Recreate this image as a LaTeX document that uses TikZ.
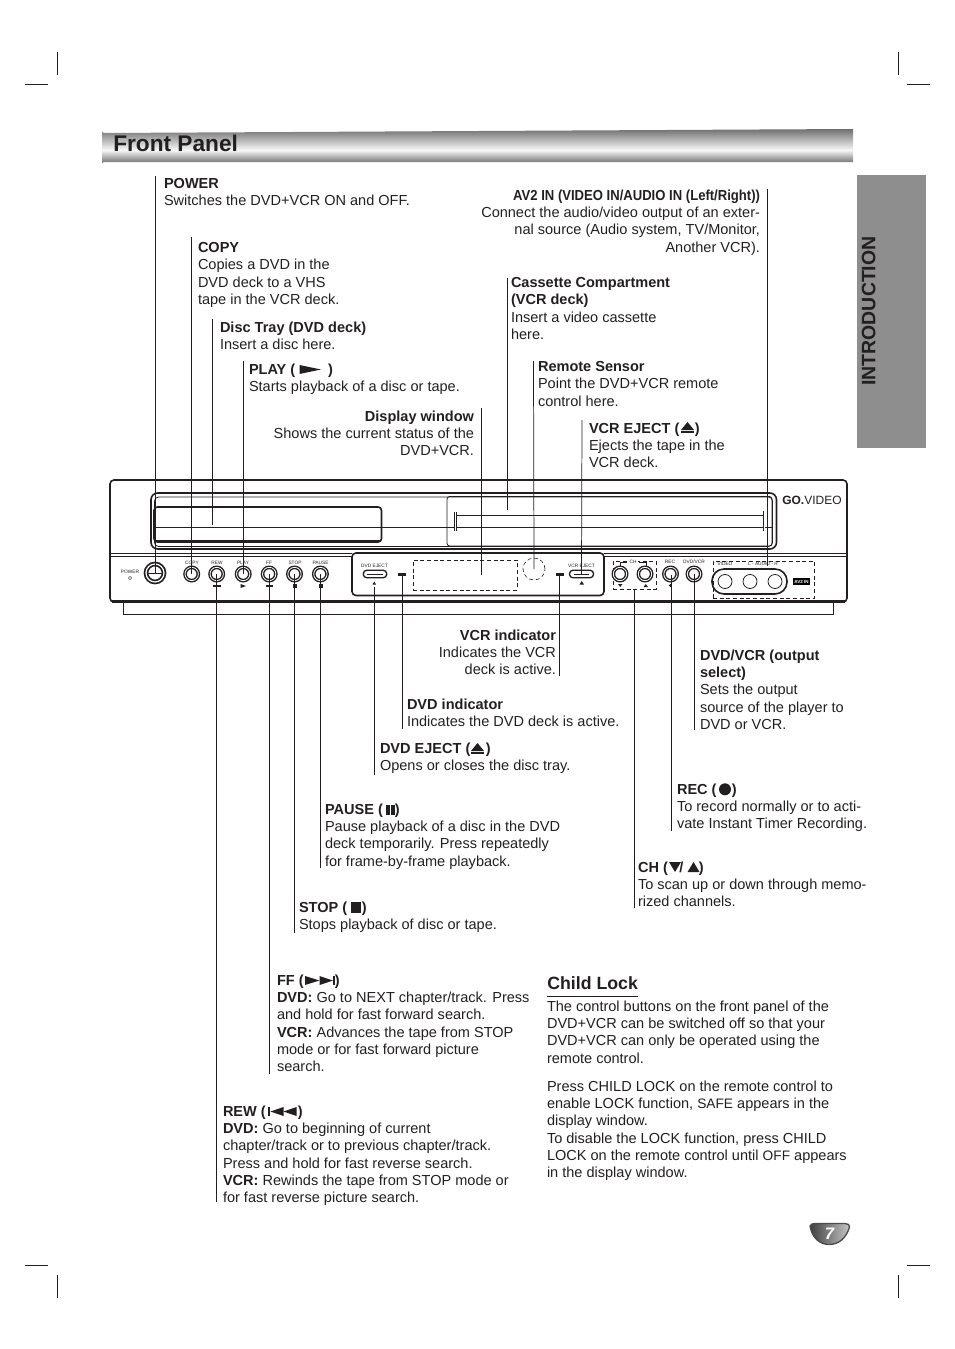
\documentclass[tikz,border=0pt]{standalone}
\usepackage{fontspec}
\setmainfont{Liberation Sans}
\newfontfamily\narrowbf[FakeStretch=0.9]{Liberation Sans Bold}
\usetikzlibrary{calc}
\definecolor{ink}{HTML}{231F20}
\definecolor{tabgray}{HTML}{8F8E8E}
\newcommand{\bodyfont}{\fontsize{10.9}{13}\selectfont}
\tikzset{
  txt/.style={anchor=north west,inner sep=0pt,outer sep=0pt,align=left,text=ink,font=\bodyfont,execute at begin node={\rule{0pt}{8.7pt}}},
  rtxt/.style={txt,anchor=north east,align=right},
  lead/.style={draw=ink,line width=0.55pt},
  crop/.style={draw=ink,line width=0.5pt},
  dev/.style={draw=ink,line width=0.6pt},
  devthick/.style={draw=ink,line width=1.2pt},
  btn/.style={circle,draw=ink,line width=1.05pt,double=white,double distance=0.6pt,minimum size=10pt,inner sep=0pt,fill=white},
  tinylab/.style={inner sep=0pt,text=ink,font=\fontsize{3.6}{4}\selectfont},
  dashbox/.style={draw=ink,line width=0.45pt,densely dashed},
}
\begin{document}
\begin{tikzpicture}[x=0.75pt,y=-0.75pt]
\useasboundingbox (0,0) rectangle (954,1349);
% crop marks
\draw[crop] (25,84) -- (48,84); \draw[crop] (57,52) -- (57,75);
\draw[crop] (907,84) -- (930,84); \draw[crop] (898,52) -- (898,75);
\draw[crop] (25,1265) -- (48,1265); \draw[crop] (57,1275) -- (57,1298);
\draw[crop] (907,1265) -- (930,1265); \draw[crop] (898,1275) -- (898,1298);
% header
\begin{scope}
\clip (102,131) arc[start angle=180,end angle=90,radius=2] -- (853,129) -- (853,162) -- (104,162) arc[start angle=270,end angle=180,radius=2] -- cycle;
\shade[top color=black!56,bottom color=black!3] (102,129) rectangle (853,150);
\shade[top color=black!3,bottom color=black!52] (102,150) rectangle (853,162);
\end{scope}
\node[anchor=west,inner sep=0pt,text=ink,font=\fontsize{17}{20}\selectfont\bfseries] (title) at (113,143.5) {Front Panel};
% side tab
\fill[tabgray] (857,175) rectangle (926,448);
\node[rotate=90,inner sep=0pt,text=ink,font=\fontsize{14.6}{16}\selectfont\bfseries] (intro) at (868.7,311) {INTRODUCTION};
% device body
\draw[devthick,rounded corners=3pt] (110,602) -- (110,480) -- (847,480) -- (847,602) -- cycle;
\draw[dev,line width=1.6pt] (112,601.5) -- (845,601.5);
\draw[dev] (123,602) -- (123,614) -- (833,614) -- (833,602);
\draw[dev] (111,553) -- (352,553); \draw[dev] (604,553) -- (846,553);
\draw[dev] (111,556) -- (352,556); \draw[dev] (604,556) -- (846,556);
% doors
\draw[devthick,rounded corners=5pt] (151,493) rectangle (776.5,549);
\draw[dev,rounded corners=3pt] (154.5,497) rectangle (772.5,546.5);
\draw[devthick,rounded corners=2.5pt] (154,507) rectangle (381.5,542);
\draw[dev] (155,540) -- (381,540);
\draw[dev] (154,527) -- (772,527);
\draw[dev,rounded corners=2pt] (447,496.5) rectangle (772,546);
\draw[dev] (456,515) -- (764,515);
\draw[dev,double=white,double distance=0.5pt] (455.6,512) -- (455.6,531);
\draw[dev,double=white,double distance=0.5pt] (764,511) -- (764,531);
\node[anchor=west,inner sep=0pt,text=ink,font=\fontsize{9}{10}\selectfont] (logo) at (782,500) {\textbf{GO.}VIDEO};
% control panel
\draw[devthick,rounded corners=3pt] (352,553) rectangle (604,595.5);
\node[rounded corners=2.5pt,draw=ink,line width=1pt,fill=white,minimum width=17.5pt,minimum height=5.6pt,inner sep=0pt] (dvdej) at (375,574) {};
\node[rounded corners=2.5pt,draw=ink,line width=1pt,fill=white,minimum width=18pt,minimum height=5.6pt,inner sep=0pt] (vcrej) at (581.5,574) {};
\draw[ink,line width=0.4pt] (367,574) -- (383,574); \draw[ink,line width=0.4pt] (574,574) -- (589,574);
\fill[ink] (398,573) rectangle (406,575.6); \coordinate (dvdind) at (402,574.5);
\fill[ink] (556,573) rectangle (564,575.6); \coordinate (vcrind) at (559.6,574.5);
\node[dashbox,minimum width=78pt,minimum height=22.5pt,inner sep=0pt] (display) at (465,575) {};
\node[dashbox,circle,minimum size=16.5pt,inner sep=0pt] (sensor) at (534,569) {};
\node[dashbox,minimum width=32pt,minimum height=21pt,inner sep=0pt] (chbox) at (634.5,575) {};
\node[dashbox,minimum width=76pt,minimum height=28pt,inner sep=0pt] (avbox) at (763.5,579.5) {};
\draw[draw=ink,line width=1.2pt,rounded corners=9pt] (712,569) rectangle (787,594);
\foreach \n/\x in {vid/725,audl/750,audr/775}{\node[circle,draw=ink,line width=0.6pt,minimum size=10.5pt,inner sep=0pt] (\n) at (\x,581.5) {};}
\node[fill=black,text=white,inner sep=0pt,minimum width=12.6pt,minimum height=5.2pt,font=\fontsize{3.4}{4}\selectfont\bfseries] (avin) at (801.5,581.5) {AV2 IN};
% buttons
\node[btn,line width=1.3pt,double distance=0.9pt,minimum size=13.5pt] (bpower) at (155,573) {};
\draw[ink,line width=0.7pt] (148,573) -- (162,573);
\node[btn] (bcopy) at (191.7,574) {};
\node[btn] (brew) at (216.7,574) {};
\node[btn] (bplay) at (243.2,574) {};
\node[btn] (bff) at (269.2,574) {};
\node[btn] (bstop) at (294.5,574) {};
\node[btn] (bpause) at (320.4,574) {};
\node[btn] (bch1) at (620,574) {};
\node[btn] (bch2) at (645,574) {};
\node[btn] (brec) at (670.5,574) {};
\node[btn] (bdvcr) at (694,574) {};
% device labels
\node[tinylab] (lpower) at (130,571.5) {POWER};
\draw[ink,line width=0.35pt] (130,578) circle[radius=1.6];
\node[tinylab] (lcopy) at (192,562.5) {COPY};
\node[tinylab] (lrew) at (217,562.5) {REW};
\node[tinylab] (lplay) at (243,562.5) {PLAY};
\node[tinylab] (lff) at (269,562.5) {FF};
\node[tinylab] (lstop) at (295,562.5) {STOP};
\node[tinylab] (lpause) at (320.5,562.5) {PAUSE};
\node[tinylab] (ldvdej) at (374.5,566) {DVD EJECT};
\node[tinylab] (lvcrej) at (581.5,566) {VCR EJECT};
\node[tinylab,fill=white,inner xsep=1pt] (lch) at (633,562) {CH};
\node[tinylab] (lrec) at (670,562) {REC};
\node[tinylab] (ldvcr) at (694,562) {DVD/VCR};
\node[tinylab] (lvideo) at (725,564) {VIDEO};
\node[tinylab] (laudio) at (763,564) {L - AUDIO - R};
\draw[ink,line width=0.45pt] (620,566) -- (620,562) -- (627,562) (639,562) -- (646,562) -- (646,566);
% small symbols under the buttons
\fill[ink] (213,585) rectangle (221,587.4);
\fill[ink] (240.5,584) -- (240.5,588) -- (246,586) -- cycle;
\fill[ink] (265.5,585) rectangle (273,587.4);
\fill[ink] (293,584) rectangle (296.5,588);
\fill[ink] (319,584) rectangle (322.5,588);
\fill[ink] (372.5,584.5) -- (376,584.5) -- (374.2,581.5) -- cycle;
\fill[ink] (579.5,584.5) -- (584,584.5) -- (581.7,581) -- cycle;
\fill[ink] (618,584) -- (622.5,584) -- (620.2,587) -- cycle;
\fill[ink] (643.5,587) -- (648,587) -- (645.7,584) -- cycle;
\fill[ink] (670.5,585.5) circle[radius=1.7];
% leader lines
\coordinate (tpower) at (155,176); \draw[lead] (tpower) -- (bpower.center);
\coordinate (tcopy) at (191.7,237); \draw[lead] (tcopy) -- (bcopy.center);
\coordinate (tdisc) at (212.5,319); \coordinate (edisc) at (212.5,525); \draw[lead] (tdisc) -- (edisc);
\coordinate (tplay) at (243.2,361); \draw[lead] (tplay) -- (bplay.center);
\coordinate (tdisp) at (481,408); \draw[lead] (tdisp) -- (481,575);
\coordinate (tcass) at (507,278); \coordinate (ecass) at (507,510); \draw[lead] (tcass) -- (ecass);
\coordinate (tsens) at (533.5,361); \draw[lead] (tsens) -- (sensor.center);
\coordinate (tvcrej) at (582,420); \draw[lead] (tvcrej) -- (vcrej.center);
\coordinate (tav) at (767.5,189); \coordinate (eav) at (767.5,566); \draw[lead] (tav) -- (eav);
\coordinate (bvcrind) at (559.6,676); \draw[lead] (vcrind) -- (bvcrind);
\coordinate (bdvdind) at (402,729); \draw[lead] (dvdind) -- (bdvdind);
\coordinate (bdvdej) at (374.5,775); \coordinate (sdvdej) at (374.5,587); \draw[lead] (sdvdej) -- (bdvdej);
\coordinate (epause) at (320.4,868); \draw[lead] (bpause.center) -- (epause);
\coordinate (estop) at (294.5,933); \draw[lead] (bstop.center) -- (estop);
\coordinate (eff) at (269.2,1074); \draw[lead] (bff.center) -- (eff);
\coordinate (erew) at (216.7,1202); \draw[lead] (brew.center) -- (erew);
\coordinate (ech) at (634.5,908); \draw[lead] (chbox.south -| ech) -- (ech);
\coordinate (erec) at (671,831); \draw[lead] (671,575) -- (erec);
\coordinate (edvcr) at (694,730); \draw[lead] (bdvcr.center) -- (edvcr);
% upper texts
\node[txt] (power) at (164,178.5) {\textbf{POWER}\\Switches the DVD+VCR ON and OFF.};
\node[txt] (copy) at (198,242.5) {\textbf{COPY}\\Copies a DVD in the\\DVD deck to a VHS\\tape in the VCR deck.};
\node[txt] (disc) at (220,321.5) {\textbf{Disc Tray (DVD deck)}\\Insert a disc here.};
\node[txt] (play) at (249,363.5) {\textbf{PLAY (\hspace{21.5pt} )}\\Starts playback of a disc or tape.};
\fill[ink] (299.5,365) -- (299.5,374) -- (321,369.5) -- cycle;
\node[rtxt] (disp) at (474,410.5) {\textbf{Display window}\\Shows the current status of the\\DVD+VCR.};
\node[rtxt] (av) at (760,189.5) {{\narrowbf AV2 IN (VIDEO IN/AUDIO IN (Left/Right))}\\Connect the audio/video output of an exter-\\nal source (Audio system, TV/Monitor,\\Another VCR).};
\node[txt] (cass) at (511,277.5) {\textbf{Cassette Compartment}\\\textbf{(VCR deck)}\\Insert a video cassette\\here.};
\node[txt] (sens) at (538,361.5) {\textbf{Remote Sensor}\\Point the DVD+VCR remote\\control here.};
\node[txt] (vej) at (589,422.5) {\textbf{VCR EJECT (\hspace{11.5pt})}\\Ejects the tape in the\\VCR deck.};
\fill[ink] (681,430) -- (694,430) -- (687.5,422) -- cycle; \fill[ink] (681,431.2) rectangle (694,433.2);
% lower texts
\node[rtxt] (vind) at (556,629.5) {\textbf{VCR indicator}\\Indicates the VCR\\deck is active.};
\node[txt] (dind) at (407,698.5) {\textbf{DVD indicator}\\Indicates the DVD deck is active.};
\node[txt] (dej) at (380,742.5) {\textbf{DVD EJECT (\hspace{11.5pt})}\\Opens or closes the disc tray.};
\fill[ink] (471,751) -- (484,751) -- (477.5,743) -- cycle; \fill[ink] (471,752.2) rectangle (484,754.2);
\node[txt] (pause) at (325,803.5) {\textbf{PAUSE (\hspace{9pt})}\\Pause playback of a disc in the DVD\\deck temporarily. Press repeatedly\\for frame-by-frame playback.};
\fill[ink] (385.5,805) rectangle (389.7,814.5); \fill[ink] (391.1,805) rectangle (395.3,814.5);
\node[txt] (stop) at (299,901.5) {\textbf{STOP (\hspace{11pt})}\\Stops playback of disc or tape.};
\fill[ink] (350.5,902) rectangle (361,912.5);
\node[txt] (ff) at (277,974.5) {\textbf{FF (\hspace{23.5pt})}\\\textbf{DVD:} Go to NEXT chapter/track. Press\\and hold for fast forward search.\\\textbf{VCR:} Advances the tape from STOP\\mode or for fast forward picture\\search.};
\fill[ink] (305,976) -- (305,985) -- (319.5,980.5) -- cycle; \fill[ink] (319.5,976) -- (319.5,985) -- (333,980.5) -- cycle; \fill[ink] (333,976) rectangle (335.2,985);
\node[txt] (rew) at (223,1105.5) {\textbf{REW (\hspace{24pt})}\\\textbf{DVD:} Go to beginning of current\\chapter/track or to previous chapter/track.\\Press and hold for fast reverse search.\\\textbf{VCR:} Rewinds the tape from STOP mode or\\for fast reverse picture search.};
\fill[ink] (268.2,1107) rectangle (270.4,1116); \fill[ink] (283.5,1107) -- (283.5,1116) -- (270.4,1111.5) -- cycle; \fill[ink] (296.5,1107) -- (296.5,1116) -- (283.5,1111.5) -- cycle;
\node[txt] (dvcr) at (700,649.5) {\textbf{DVD/VCR (output}\\\textbf{select)}\\Sets the output\\source of the player to\\DVD or VCR.};
\node[txt] (rec) at (677,783.5) {\textbf{REC (\hspace{11.5pt})}\\To record normally or to acti-\\vate Instant Timer Recording.};
\fill[ink] (725,789.3) circle[radius=6];
\node[txt] (ch) at (638,861.5) {\textbf{CH (\hspace{8.7pt}/\hspace{11.5pt})}\\To scan up or down through memo-\\rized channels.};
\fill[ink] (669,862) -- (681,862) -- (675,872) -- cycle; \fill[ink] (687.5,872) -- (699.5,872) -- (693.5,862) -- cycle;
% child lock
\node[anchor=west,inner sep=0pt,text=ink,font=\fontsize{13.3}{16}\selectfont\bfseries] (clock) at (547,983) {Child Lock};
\coordinate (cla) at (547,996); \coordinate (clb) at (638,996); \draw[ink,line width=0.7pt] (cla) -- (clb);
\node[txt] (cl1) at (547,1000.5) {The control buttons on the front panel of the\\DVD+VCR can be switched off so that your\\DVD+VCR can only be operated using the\\remote control.};
\node[txt] (cl2) at (547,1080.5) {Press CHILD LOCK on the remote control to\\enable LOCK function, {\fontsize{10.3}{13}\selectfont SAFE} appears in the\\display window.\\To disable the LOCK function, press CHILD\\LOCK on the remote control until {\fontsize{10.3}{13}\selectfont OFF} appears\\in the display window.};
% page badge
\path[draw=black!70,line width=1pt,left color=black!75,right color=black!22] (810,1226) .. controls (811,1224) and (813,1223.5) .. (815,1223.5) -- (845,1223.5) .. controls (848,1223.5) and (850,1225) .. (849.5,1227) .. controls (846,1239) and (838,1244.5) .. (829,1244.5) .. controls (820,1244.5) and (812,1238) .. (810,1226) -- cycle;
\node[inner sep=0pt,text=white,font=\fontsize{12.5}{14}\selectfont\bfseries\itshape] (pageno) at (829.5,1233.5) {7};
\end{tikzpicture}
\end{document}
